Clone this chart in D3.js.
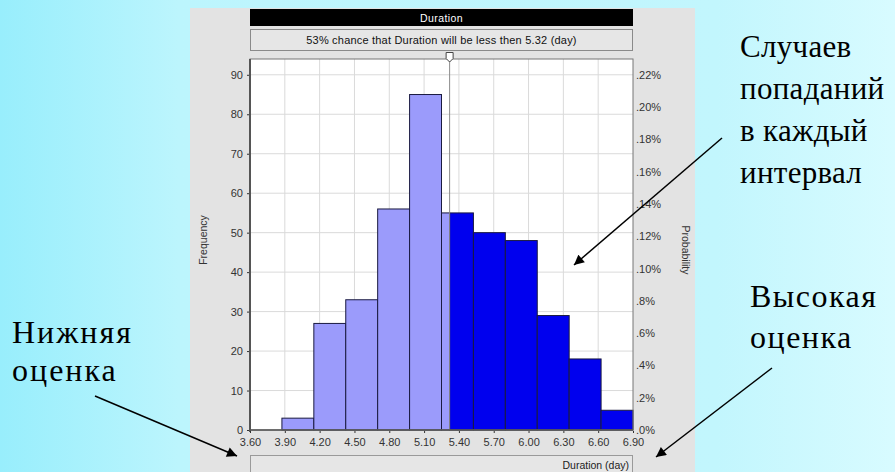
<!DOCTYPE html>
<html><head><meta charset="utf-8">
<script src="https://cdn.jsdelivr.net/npm/d3@7"></script>
<style>html,body{margin:0;padding:0;overflow:hidden;}svg{display:block;}</style>
</head><body><svg id="c" width="895" height="472"></svg>
<script>
// ---- data ----
const binStarts = [3.600, 3.875, 4.150, 4.425, 4.700, 4.975, 5.250, 5.525, 5.800, 6.075, 6.350, 6.625];
const binEnd = 6.90;
const frequencies = [0, 3, 27, 33, 56, 85, 55, 50, 48, 29, 18, 5];
const xTickValues = [3.60, 3.90, 4.20, 4.50, 4.80, 5.10, 5.40, 5.70, 6.00, 6.30, 6.60, 6.90];
const yTickValues = [0, 10, 20, 30, 40, 50, 60, 70, 80, 90];
const probTickLabels = [".0%", ".2%", ".4%", ".6%", ".8%", ".10%", ".12%", ".14%", ".16%", ".18%", ".20%", ".22%"];
const probTickValues = [0, 0.02, 0.04, 0.06, 0.08, 0.10, 0.12, 0.14, 0.16, 0.18, 0.20, 0.22];
const certaintyValue = 5.32;
const chartTitle = "Duration";
const certaintyText = "53% chance that Duration will be less then 5.32 (day)";
const xLabel = "Duration (day)";
const annotations = [
  {lines: ["Случаев", "попаданий", "в каждый", "интервал"]},
  {lines: ["Высокая", "оценка"]},
  {lines: ["Нижняя", "оценка"]}
];

const svg = d3.select("#c");
const W = 895, H = 472;

// background gradient
const defs = svg.append("defs");
const g = defs.append("linearGradient").attr("id","bg").attr("x1","0").attr("x2","1").attr("y1","0").attr("y2","0");
[[0,"#98eefc"],[0.2,"#bcf5fd"],[0.8,"#c2f6fd"],[1,"#d8fbff"]].forEach(([o,c])=>g.append("stop").attr("offset",o).attr("stop-color",c));
svg.append("rect").attr("width",W).attr("height",H).attr("fill","url(#bg)");

const mk = defs.append("marker").attr("id","arr").attr("viewBox","0 0 10 10").attr("refX",10).attr("refY",5)
  .attr("markerWidth",12).attr("markerHeight",10).attr("markerUnits","userSpaceOnUse").attr("orient","auto");
mk.append("path").attr("d","M0,0 L10,5 L0,10 Z").attr("fill","#000");

// gray panel
svg.append("rect").attr("x",190).attr("y",8).attr("width",505).attr("height",470).attr("fill","#e3e3e3");

const pl = 250, pr = 633, pt = 59, pb = 430;
const x = d3.scaleLinear().domain([3.60, 6.90]).range([pl, pr]);
const y = d3.scaleLinear().domain([0, 94]).range([pb, pt]);
const yp = d3.scaleLinear().domain([0, 0.22*94/90]).range([pb, pt]);
const font = "Liberation Sans, Arial, sans-serif";

// title bar
svg.append("rect").attr("x",pl).attr("y",9).attr("width",pr-pl).attr("height",17).attr("fill","#000");
svg.append("text").attr("x",(pl+pr)/2).attr("y",21.5).attr("text-anchor","middle")
  .attr("font-family",font).attr("font-size",10.5).attr("fill","#fff").attr("letter-spacing",0.4).text(chartTitle);
svg.append("rect").attr("x",pl+0.5).attr("y",29.5).attr("width",pr-pl-1).attr("height",21).attr("fill","#e6e6e6").attr("stroke","#8a8a8a");
svg.append("text").attr("x",(pl+pr)/2).attr("y",44).attr("text-anchor","middle")
  .attr("font-family",font).attr("font-size",11).attr("fill","#111").attr("letter-spacing",0.2).text(certaintyText);

// plot area
svg.append("rect").attr("x",pl).attr("y",pt).attr("width",pr-pl).attr("height",pb-pt).attr("fill","#fff");

// grid
svg.append("g").selectAll("line").data(yTickValues.filter(d=>d>0)).join("line")
  .attr("x1",pl).attr("x2",pr).attr("y1",d=>y(d)).attr("y2",d=>y(d)).attr("stroke","#dadada");
svg.append("g").selectAll("line").data(xTickValues.slice(1,-1)).join("line")
  .attr("y1",pt).attr("y2",pb).attr("x1",d=>x(d)).attr("x2",d=>x(d)).attr("stroke","#dadada");

// bars
const segs = [];
binStarts.forEach((s,i)=>{
  const e = i < binStarts.length-1 ? binStarts[i+1] : binEnd;
  const v = frequencies[i];
  if (v <= 0) return;
  if (e <= certaintyValue) segs.push({s, e, v, light:true});
  else if (s >= certaintyValue) segs.push({s, e, v, light:false});
  else { segs.push({s, e:certaintyValue, v, light:true}); segs.push({s:certaintyValue, e, v, light:false}); }
});
svg.append("g").selectAll("rect").data(segs).join("rect")
  .attr("x",d=>x(d.s)).attr("width",d=>x(d.e)-x(d.s))
  .attr("y",d=>y(d.v)).attr("height",d=>pb-y(d.v))
  .attr("fill",d=>d.light?"#9b9bfb":"#0000ee")
  .attr("stroke","#1a1a40").attr("stroke-width",1);

// certainty marker line
svg.append("line").attr("x1",x(certaintyValue)).attr("x2",x(certaintyValue)).attr("y1",pt-2).attr("y2",pb)
  .attr("stroke","#8c8c8c").attr("stroke-width",1);

// frame
svg.append("rect").attr("x",pl).attr("y",pt).attr("width",pr-pl).attr("height",pb-pt)
  .attr("fill","none").attr("stroke","#777").attr("stroke-width",1);
svg.append("line").attr("x1",pl).attr("x2",pl).attr("y1",pt).attr("y2",pb+2).attr("stroke","#555").attr("stroke-width",2);
svg.append("line").attr("x1",pl).attr("x2",pr).attr("y1",pb).attr("y2",pb).attr("stroke","#555").attr("stroke-width",1.5);

// slider handle
svg.append("path").attr("d",`M${x(certaintyValue)-3.5},52.5 h7 v6 l-3.5,3.5 l-3.5,-3.5 z`)
  .attr("fill","#fff").attr("stroke","#444").attr("stroke-width",1);

// left axis
const yAxis = d3.axisLeft(y).tickValues(yTickValues).tickSize(2).tickPadding(4);
const ga = svg.append("g").attr("transform",`translate(${pl-1},0)`).call(yAxis);
ga.select(".domain").remove();
ga.selectAll("text").attr("font-family",font).attr("font-size",11).attr("fill","#333");
ga.selectAll("line").attr("stroke","#333");
// right axis
const rAxis = d3.axisRight(yp).tickValues(probTickValues).tickFormat((d,i)=>probTickLabels[i]).tickSize(0).tickPadding(3);
const gr = svg.append("g").attr("transform",`translate(${pr},0)`).call(rAxis);
gr.select(".domain").remove();
gr.selectAll("text").attr("font-family",font).attr("font-size",11).attr("fill","#333");
// bottom axis
const xAxis = d3.axisBottom(x).tickValues(xTickValues).tickFormat(d3.format(".2f")).tickSize(2).tickPadding(5);
const gx = svg.append("g").attr("transform",`translate(0,${pb+1})`).call(xAxis);
gx.select(".domain").remove();
gx.selectAll("text").attr("font-family",font).attr("font-size",11).attr("fill","#333");
gx.selectAll("line").attr("stroke","#333");

// axis titles
svg.append("text").attr("transform","translate(207,240) rotate(-90)").attr("text-anchor","middle")
  .attr("font-family",font).attr("font-size",10.5).attr("fill","#333").text("Frequency");
svg.append("text").attr("transform","translate(682,250) rotate(90)").attr("text-anchor","middle")
  .attr("font-family",font).attr("font-size",10.5).attr("fill","#333").text("Probability");

// bottom label box
svg.append("rect").attr("x",pl+0.5).attr("y",455.5).attr("width",pr-pl-1).attr("height",20).attr("fill","#e6e6e6").attr("stroke","#9a9a9a");
svg.append("text").attr("x",pr-4).attr("y",469).attr("text-anchor","end")
  .attr("font-family",font).attr("font-size",10.5).attr("fill","#222").text(xLabel);

// annotations
const serif = "Liberation Serif, Times New Roman, serif";
function block(lines, x0, y0, lh, fs, ls){
  const t = svg.append("text").attr("font-family",serif).attr("font-size",fs).attr("fill","#000").attr("letter-spacing",ls);
  lines.forEach((l,i)=>t.append("tspan").attr("x",x0).attr("y",y0+i*lh).text(l));
}
block(annotations[0].lines, 740, 57, 42, 31, 0.3);
block(annotations[1].lines, 750, 307, 41, 32, 1.5);
block(annotations[2].lines, 12, 343, 38, 32, 2);

// arrows
const arrows = [[722,138,574,265],[772,368,656,457],[95,396,237,456]];
svg.append("g").selectAll("line").data(arrows).join("line")
  .attr("x1",d=>d[0]).attr("y1",d=>d[1]).attr("x2",d=>d[2]).attr("y2",d=>d[3])
  .attr("stroke","#000").attr("stroke-width",1.5).attr("marker-end","url(#arr)");
</script></body></html>
